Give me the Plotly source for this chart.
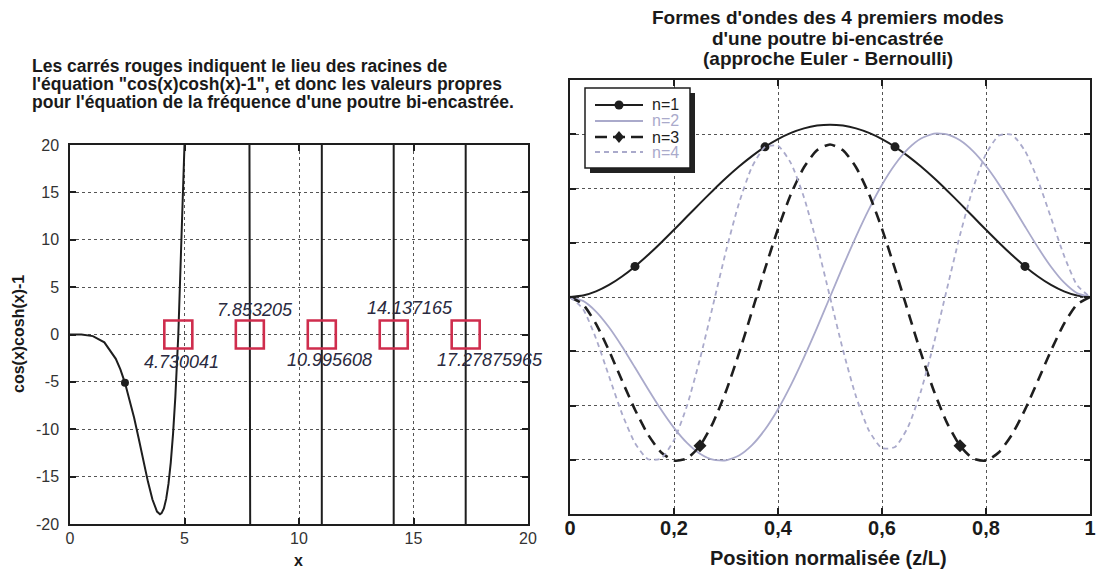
import plotly.graph_objects as go

# ---------------- Left chart: cos(x)cosh(x)-1 (off-scale values estimated)
f_x = [0, 0.5, 1.0, 1.5, 2.0, 2.2, 2.4, 2.6, 2.8, 3.0, 3.2, 3.4, 3.6, 3.7, 3.8, 3.93, 4.0, 4.1, 4.2, 4.3,
       4.4, 4.5, 4.6, 4.73, 4.9, 5.0,
       6.3, 7.80, 7.853, 7.90, 9.42, 10.95, 10.996, 11.04, 12.57, 14.09, 14.137, 14.18, 15.71,
       17.23, 17.279, 17.33, 18.85, 20.0]
f_y = [0, -0.01, -0.17, -0.83, -2.57, -3.69, -5.10, -6.80, -8.78, -10.97, -13.27, -15.50, -17.42, -18.17,
       -18.69, -18.96, -18.85, -18.35, -17.35, -15.77,
       -13.52, -10.49, -6.58, 0, 11.5, 20.05,
       271, 64.9, 0, -63, -6170, -1298, 0, 1383, 1.43e5, 31040, 0, -30800, -3.3e6,
       -7.4e5, 0, 8.6e5, 7.6e7, 9.9e7]
f_marker_idx = [6]

roots = [4.730041, 7.853205, 10.995608, 14.137165, 17.27875965]
root_zero = [0, 0, 0, 0, 0]
root_labels = ["4.730041", "7.853205", "10.995608", "14.137165", "17.27875965"]
left_xticks = [0, 5, 10, 15, 20]
left_yticks = [-20, -15, -10, -5, 0, 5, 10, 15, 20]
left_ytext = ["-20", "-15", "-10", "-5", "0", "5", "10", "15", "20"]

# ---------------- Right chart: mode shapes
z = [0, 0.025, 0.05, 0.075, 0.1, 0.125, 0.15, 0.175, 0.2, 0.225, 0.25, 0.275, 0.3, 0.325, 0.35, 0.375,
     0.4, 0.425, 0.45, 0.475, 0.5, 0.525, 0.55, 0.575, 0.6, 0.625, 0.65, 0.675, 0.7, 0.725, 0.75, 0.775,
     0.8, 0.825, 0.85, 0.875, 0.9, 0.925, 0.95, 0.975, 1.0]
n1 = [0, 0.0134, 0.0516, 0.1112, 0.1891, 0.2820, 0.3867, 0.5002, 0.6194, 0.7413, 0.8631, 0.9822, 1.0960,
      1.2022, 1.2987, 1.3837, 1.4554, 1.5127, 1.5544, 1.5797, 1.5882,
      1.5797, 1.5544, 1.5127, 1.4554, 1.3837, 1.2987, 1.2022, 1.0960, 0.9822, 0.8631, 0.7413, 0.6194,
      0.5002, 0.3867, 0.2820, 0.1891, 0.1112, 0.0516, 0.0134, 0]
n2 = [0, -0.0360, -0.1340, -0.2789, -0.4557, -0.6502, -0.8485, -1.0379, -1.2067, -1.3451, -1.4449, -1.4997,
      -1.5055, -1.4605, -1.3650, -1.2215, -1.0346, -0.8105, -0.5573, -0.2838, 0,
      0.2838, 0.5573, 0.8105, 1.0346, 1.2215, 1.3650, 1.4605, 1.5055, 1.4997, 1.4449, 1.3451, 1.2067,
      1.0379, 0.8485, 0.6502, 0.4557, 0.2789, 0.1340, 0.0360, 0]
n3 = [0, -0.0686, -0.2469, -0.4939, -0.7701, -1.0387, -1.2676, -1.4304, -1.5078, -1.4888, -1.3708, -1.1596,
      -0.8687, -0.5181, -0.1331, 0.2586, 0.6283, 0.9488, 1.1963, 1.3525, 1.4060,
      1.3525, 1.1963, 0.9488, 0.6283, 0.2586, -0.1331, -0.5181, -0.8687, -1.1596, -1.3708, -1.4888,
      -1.5078, -1.4304, -1.2676, -1.0387, -0.7701, -0.4939, -0.2469, -0.0686, 0]
n4 = [0, -0.1102, -0.3822, -0.7302, -1.0745, -1.3467, -1.4951, -1.4887, -1.3192, -1.0015, -0.5704, -0.0760,
      0.4227, 0.8655, 1.1988, 1.3822, 1.3935, 1.2317, 0.9172, 0.4889, 0,
      -0.4889, -0.9172, -1.2317, -1.3935, -1.3822, -1.1988, -0.8655, -0.4227, 0.0760, 0.5704, 1.0015,
      1.3192, 1.4887, 1.4951, 1.3467, 1.0745, 0.7302, 0.3822, 0.1102, 0]
n1_marker_idx = [5, 15, 25, 35]
n3_marker_idx = [10, 30]
series_names = ["n=1", "n=2", "n=3", "n=4"]
right_xticks = [0, 0.2, 0.4, 0.6, 0.8, 1.0]
right_xtext = ["0", "0,2", "0,4", "0,6", "0,8", "1"]
right_yticks = [-2, -1.5, -1, -0.5, 0, 0.5, 1, 1.5, 2]

FONT = "Liberation Sans, Arial, Helvetica, sans-serif"
DARK = "#1e1e1e"
LIGHT = "#aaaacb"
RED = "#cf2d4d"
W, H = 1098, 574


def px_x(p):
    return p / W


def px_y(p):
    return 1 - p / H


fig = go.Figure()

# left curve
fig.add_trace(go.Scatter(x=f_x, y=f_y, mode="lines", line=dict(color=DARK, width=2),
                         xaxis="x", yaxis="y", showlegend=False, hoverinfo="skip"))
fig.add_trace(go.Scatter(x=[f_x[i] for i in f_marker_idx], y=[f_y[i] for i in f_marker_idx], mode="markers",
                         marker=dict(color=DARK, size=8), xaxis="x", yaxis="y", showlegend=False))
fig.add_trace(go.Scatter(x=roots, y=root_zero, mode="markers",
                         marker=dict(symbol="square-open", size=28, color=RED, line=dict(width=2.6, color=RED)),
                         xaxis="x", yaxis="y", showlegend=False, cliponaxis=False))

# right curves
fig.add_trace(go.Scatter(x=z, y=n1, mode="lines", name=series_names[0],
                         line=dict(color=DARK, width=2, shape="spline", smoothing=0.6),
                         xaxis="x2", yaxis="y2", showlegend=False))
fig.add_trace(go.Scatter(x=[z[i] for i in n1_marker_idx], y=[n1[i] for i in n1_marker_idx], mode="markers",
                         marker=dict(color=DARK, size=9), xaxis="x2", yaxis="y2", showlegend=False))
fig.add_trace(go.Scatter(x=z, y=n2, mode="lines", name=series_names[1],
                         line=dict(color=LIGHT, width=1.8, shape="spline", smoothing=0.6),
                         xaxis="x2", yaxis="y2", showlegend=False))
fig.add_trace(go.Scatter(x=z, y=n3, mode="lines", name=series_names[2],
                         line=dict(color=DARK, width=2.6, dash="11px,7px", shape="spline", smoothing=0.6),
                         xaxis="x2", yaxis="y2", showlegend=False))
fig.add_trace(go.Scatter(x=[z[i] for i in n3_marker_idx], y=[n3[i] for i in n3_marker_idx], mode="markers",
                         marker=dict(color=DARK, size=10, symbol="diamond"), xaxis="x2", yaxis="y2",
                         showlegend=False))
fig.add_trace(go.Scatter(x=z, y=n4, mode="lines", name=series_names[3],
                         line=dict(color=LIGHT, width=1.8, dash="5px,4px", shape="spline", smoothing=0.6),
                         xaxis="x2", yaxis="y2", showlegend=False))

axis_common = dict(showline=True, linecolor=DARK, linewidth=1.5, mirror="ticks", ticks="inside",
                   ticklen=6, tickwidth=1.5, tickcolor=DARK, showgrid=True, gridcolor="#555555",
                   griddash="dot", gridwidth=1, zeroline=False, automargin=False)

annotations = []
# left title
for i, line in enumerate(["Les carrés rouges indiquent le lieu des racines de",
                          "l'équation \"cos(x)cosh(x)-1\", et donc les valeurs propres",
                          "pour l'équation de la fréquence d'une poutre bi-encastrée."]):
    annotations.append(dict(text="<b>%s</b>" % line, x=px_x(30), y=px_y(66 + 18 * i), xref="paper", yref="paper",
                            xanchor="left", yanchor="middle", showarrow=False,
                            font=dict(family=FONT, size=17.5, color="#1a1a1a")))
# right title
for i, line in enumerate(["Formes d'ondes des 4 premiers modes",
                          "d'une poutre bi-encastrée",
                          "(approche Euler - Bernoulli)"]):
    annotations.append(dict(text="<b>%s</b>" % line, x=px_x(828), y=px_y(18 + 20 * i), xref="paper", yref="paper",
                            xanchor="center", yanchor="middle", showarrow=False,
                            font=dict(family=FONT, size=19, color="#1a1a1a")))
# axis titles
annotations.append(dict(text="<b>x</b>", x=px_x(298), y=px_y(560), xref="paper", yref="paper",
                        xanchor="center", yanchor="middle", showarrow=False,
                        font=dict(family=FONT, size=16, color="#1a1a1a")))
annotations.append(dict(text="<b>cos(x)cosh(x)-1</b>", x=px_x(18), y=px_y(334), xref="paper", yref="paper",
                        xanchor="center", yanchor="middle", showarrow=False, textangle=-90,
                        font=dict(family=FONT, size=16, color="#1a1a1a")))
annotations.append(dict(text="<b>Position normalisée (z/L)</b>", x=px_x(828), y=px_y(558), xref="paper",
                        yref="paper", xanchor="center", yanchor="middle", showarrow=False,
                        font=dict(family=FONT, size=20, color="#1a1a1a")))
# root labels
label_pos = [(4.85, -2.9), (8.1, 2.6), (11.35, -2.7), (14.85, 2.8), (18.35, -2.7)]
for (lx, ly), txt in zip(label_pos, root_labels):
    annotations.append(dict(text="<i>%s</i>" % txt, x=lx, y=ly, xref="x", yref="y", xanchor="center",
                            yanchor="middle", showarrow=False,
                            font=dict(family=FONT, size=18, color="#2a2a40")))

# ---- legend box drawn by hand (with drop shadow), matching the original
LX0, LY0, LX1, LY1 = 585, 88, 690, 168
item_y = [105, 121, 137, 152]
sample_x0, sample_x1, text_x = 595, 643, 650
legend_colors = [DARK, LIGHT, DARK, LIGHT]
legend_dash = ["solid", "solid", "12px,6px", "5px,4px"]
legend_width = [2, 1.8, 2.6, 1.8]

shapes = [
    dict(type="rect", xref="paper", yref="paper", x0=px_x(LX0 + 5), x1=px_x(LX1 + 5),
         y0=px_y(LY1 + 5), y1=px_y(LY0 + 5), fillcolor="#222222", line=dict(width=0), layer="above"),
    dict(type="rect", xref="paper", yref="paper", x0=px_x(LX0), x1=px_x(LX1),
         y0=px_y(LY1), y1=px_y(LY0), fillcolor="white", line=dict(width=1.5, color=DARK), layer="above"),
]
for k in range(4):
    shapes.append(dict(type="line", xref="paper", yref="paper", x0=px_x(sample_x0), x1=px_x(sample_x1),
                       y0=px_y(item_y[k]), y1=px_y(item_y[k]),
                       line=dict(color=legend_colors[k], width=legend_width[k], dash=legend_dash[k]),
                       layer="above"))
    annotations.append(dict(text=series_names[k], x=px_x(text_x), y=px_y(item_y[k]), xref="paper",
                            yref="paper", xanchor="left", yanchor="middle", showarrow=False,
                            font=dict(family=FONT, size=16, color=legend_colors[k])))
cx = (sample_x0 + sample_x1) / 2
shapes.append(dict(type="circle", xref="paper", yref="paper", x0=px_x(cx - 4.5), x1=px_x(cx + 4.5),
                   y0=px_y(item_y[0] + 4.5), y1=px_y(item_y[0] - 4.5), fillcolor=DARK,
                   line=dict(width=0), layer="above"))
dy = item_y[2]
shapes.append(dict(type="path", xref="paper", yref="paper",
                   path="M%f,%f L%f,%f L%f,%f L%f,%f Z" % (px_x(cx), px_y(dy - 6), px_x(cx + 5), px_y(dy),
                                                           px_x(cx), px_y(dy + 6), px_x(cx - 5), px_y(dy)),
                   fillcolor=DARK, line=dict(width=0), layer="above"))

fig.update_layout(
    width=W, height=H, margin=dict(l=0, r=0, t=0, b=0, autoexpand=False),
    paper_bgcolor="white", plot_bgcolor="white",
    font=dict(family=FONT, size=15, color="#222222"),
    xaxis=dict(domain=[px_x(70), px_x(528)], range=[0, 20], tickvals=left_xticks, anchor="y",
               tickfont=dict(size=16, color="#333333"), ticklabelstandoff=-1, **axis_common),
    yaxis=dict(domain=[px_y(524), px_y(145)], range=[-20, 20], tickvals=left_yticks, ticktext=left_ytext,
               anchor="x", tickfont=dict(size=16, color="#333333"), ticklabelstandoff=6, **axis_common),
    xaxis2=dict(domain=[px_x(570), px_x(1090)], range=[0, 1], tickvals=right_xticks, ticktext=right_xtext,
                anchor="y2", tickfont=dict(size=20, color="#1a1a1a", weight="bold"), ticklabelstandoff=-5,
                **axis_common),
    yaxis2=dict(domain=[px_y(514), px_y(80)], range=[-2, 2], tickvals=right_yticks, showticklabels=False,
                anchor="x2", **axis_common),
    showlegend=False,
    annotations=annotations,
    shapes=shapes,
)

fig.write_html("out.html")
